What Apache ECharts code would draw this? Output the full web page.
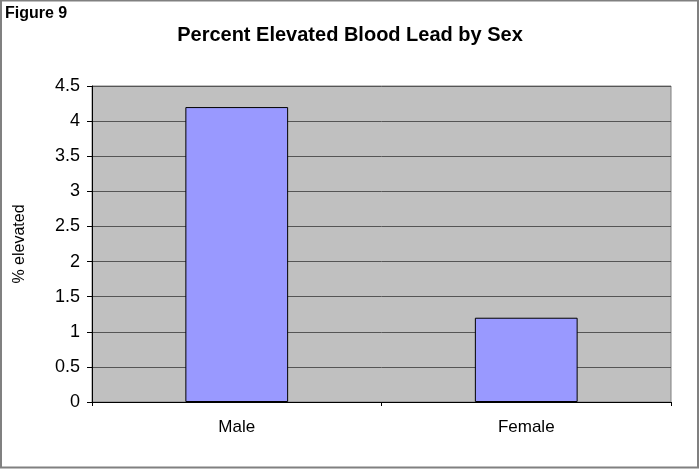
<!DOCTYPE html>
<html>
<head>
<meta charset="utf-8">
<script src="https://cdn.jsdelivr.net/npm/echarts@6/dist/echarts.min.js"></script>
<style>
  body { margin: 0; background: #fff; }
  #chart { width: 700px; height: 470px; }
</style>
</head>
<body>
<div id="chart"></div>
<script>
// 数据
var categories = ['Male', 'Female'];
var percentElevated = [4.2, 1.2];

var myChart = echarts.init(document.getElementById('chart'));
myChart.setOption({
    animation: false,
    backgroundColor: '#fff',
    textStyle: { fontFamily: 'Arial, "Liberation Sans", sans-serif' },
    title: [
        {
            text: 'Percent Elevated Blood Lead by Sex',
            left: 'center',
            top: 20,
            textStyle: { fontSize: 20, fontWeight: 'bold', color: '#000' }
        },
        {
            text: 'Figure 9',
            left: 0,
            top: 1,
            textStyle: { fontSize: 16, fontWeight: 'bold', color: '#000' }
        }
    ],
    graphic: [
        {
            type: 'rect',
            shape: { x: 1, y: 0.5, width: 697, height: 467 },
            style: { fill: null, stroke: '#808080', lineWidth: 2 },
            silent: true
        }
    ],
    grid: {
        left: 92,
        right: 29,
        top: 86,
        bottom: 68,
        show: true,
        backgroundColor: '#c0c0c0',
        borderColor: '#808080',
        borderWidth: 1
    },
    xAxis: {
        type: 'category',
        data: categories,
        axisLine: { lineStyle: { color: '#000', width: 1 } },
        axisTick: { show: true, length: 4, lineStyle: { color: '#000' } },
        axisLabel: { color: '#000', fontSize: 17, margin: 17 }
    },
    yAxis: {
        type: 'value',
        min: 0,
        max: 4.5,
        interval: 0.5,
        name: '% elevated',
        nameLocation: 'middle',
        nameGap: 64,
        nameRotate: 90,
        nameTextStyle: { color: '#000', fontSize: 16 },
        axisLine: { show: true, lineStyle: { color: '#000', width: 1 } },
        axisTick: { show: true, length: 5, lineStyle: { color: '#000' } },
        axisLabel: { color: '#000', fontSize: 18, margin: 12 },
        splitLine: { show: true, lineStyle: { color: '#555', width: 1 } }
    },
    series: [
        {
            type: 'bar',
            data: percentElevated,
            barWidth: '35.5%',
            itemStyle: { color: '#9999ff', borderColor: '#000', borderWidth: 1 }
        }
    ]
});
</script>
</body>
</html>
